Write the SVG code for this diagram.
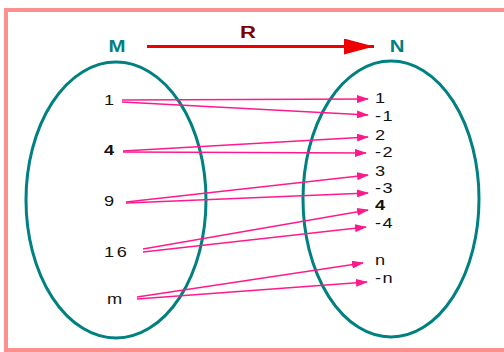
<svg xmlns="http://www.w3.org/2000/svg" width="504" height="352" viewBox="0 0 504 352">
<style>
.set{fill:none;stroke:#008080;stroke-width:3}
.lbl{font-family:"Liberation Sans",Arial,sans-serif;font-size:14px;fill:#111}
.title{font-family:"Liberation Sans",Arial,sans-serif;font-size:17px;font-weight:bold;fill:#008080}
.conn line{stroke:#ff1a8c;stroke-width:1.3;marker-end:url(#ah)}
</style>
<defs>
<marker id="ah" markerWidth="12" markerHeight="8" refX="11" refY="4" orient="auto" markerUnits="userSpaceOnUse">
<path d="M0,0 L12,4 L0,8 Z" fill="#ff1a8c"/>
</marker>
<marker id="big" markerWidth="30" markerHeight="16" refX="30" refY="8" orient="auto" markerUnits="userSpaceOnUse">
<path d="M0,0 L30,8 L0,16 Z" fill="#ee0000"/>
</marker>
</defs>
<rect width="504" height="352" fill="#fff"/>
<rect x="6" y="10" width="510" height="340" fill="none" stroke="#ff9090" stroke-width="4"/>
<g id="relation">
<line x1="147" y1="46.5" x2="374" y2="46.5" stroke="#ee0000" stroke-width="3" marker-end="url(#big)"/>
<text x="248" y="38" text-anchor="middle" font-family="'Liberation Sans',Arial,sans-serif" font-size="17" font-weight="bold" fill="#800000" transform="translate(248 0) scale(1.3 1) translate(-248 0)">R</text>
</g>
<g id="setM">
<ellipse class="set" cx="116" cy="200" rx="90" ry="138"/>
<text class="title" x="117" y="52" text-anchor="middle" transform="translate(117 0) scale(1.2 1) translate(-117 0)">M</text>
<g transform="scale(1.3 1)">
<text class="lbl" x="80" y="105">1</text>
<text class="lbl" x="80" y="155" font-weight="bold">4</text>
<text class="lbl" x="80" y="206">9</text>
<text class="lbl" x="80" y="257" letter-spacing="2">16</text>
<text class="lbl" x="82.3" y="304">m</text>
</g>
</g>
<g id="setN">
<ellipse class="set" cx="391" cy="199" rx="88" ry="138"/>
<text class="title" x="397" y="52" text-anchor="middle" transform="translate(397 0) scale(1.2 1) translate(-397 0)">N</text>
<g transform="scale(1.3 1)">
<text class="lbl" x="288.5" y="103">1</text>
<text class="lbl" x="288.5" y="121" letter-spacing="1">-1</text>
<text class="lbl" x="288.5" y="140">2</text>
<text class="lbl" x="288.5" y="157" letter-spacing="1">-2</text>
<text class="lbl" x="288.5" y="176">3</text>
<text class="lbl" x="288.5" y="193" letter-spacing="1">-3</text>
<text class="lbl" x="288.5" y="210" font-weight="bold">4</text>
<text class="lbl" x="288.5" y="228" letter-spacing="1">-4</text>
<text class="lbl" x="288.5" y="265">n</text>
<text class="lbl" x="288.5" y="283" letter-spacing="1">-n</text>
</g>
</g>
<g id="connectors" class="conn">
<line x1="122" y1="100" x2="368" y2="99"/>
<line x1="122" y1="102" x2="368" y2="115"/>
<line x1="123" y1="151" x2="368" y2="137"/>
<line x1="123" y1="152" x2="366" y2="153"/>
<line x1="126" y1="202" x2="368" y2="175"/>
<line x1="126" y1="203" x2="368" y2="193"/>
<line x1="143" y1="249" x2="368" y2="210"/>
<line x1="143" y1="252" x2="366" y2="227"/>
<line x1="137" y1="297" x2="363" y2="263"/>
<line x1="137" y1="299" x2="367" y2="282"/>
</g>
</svg>
